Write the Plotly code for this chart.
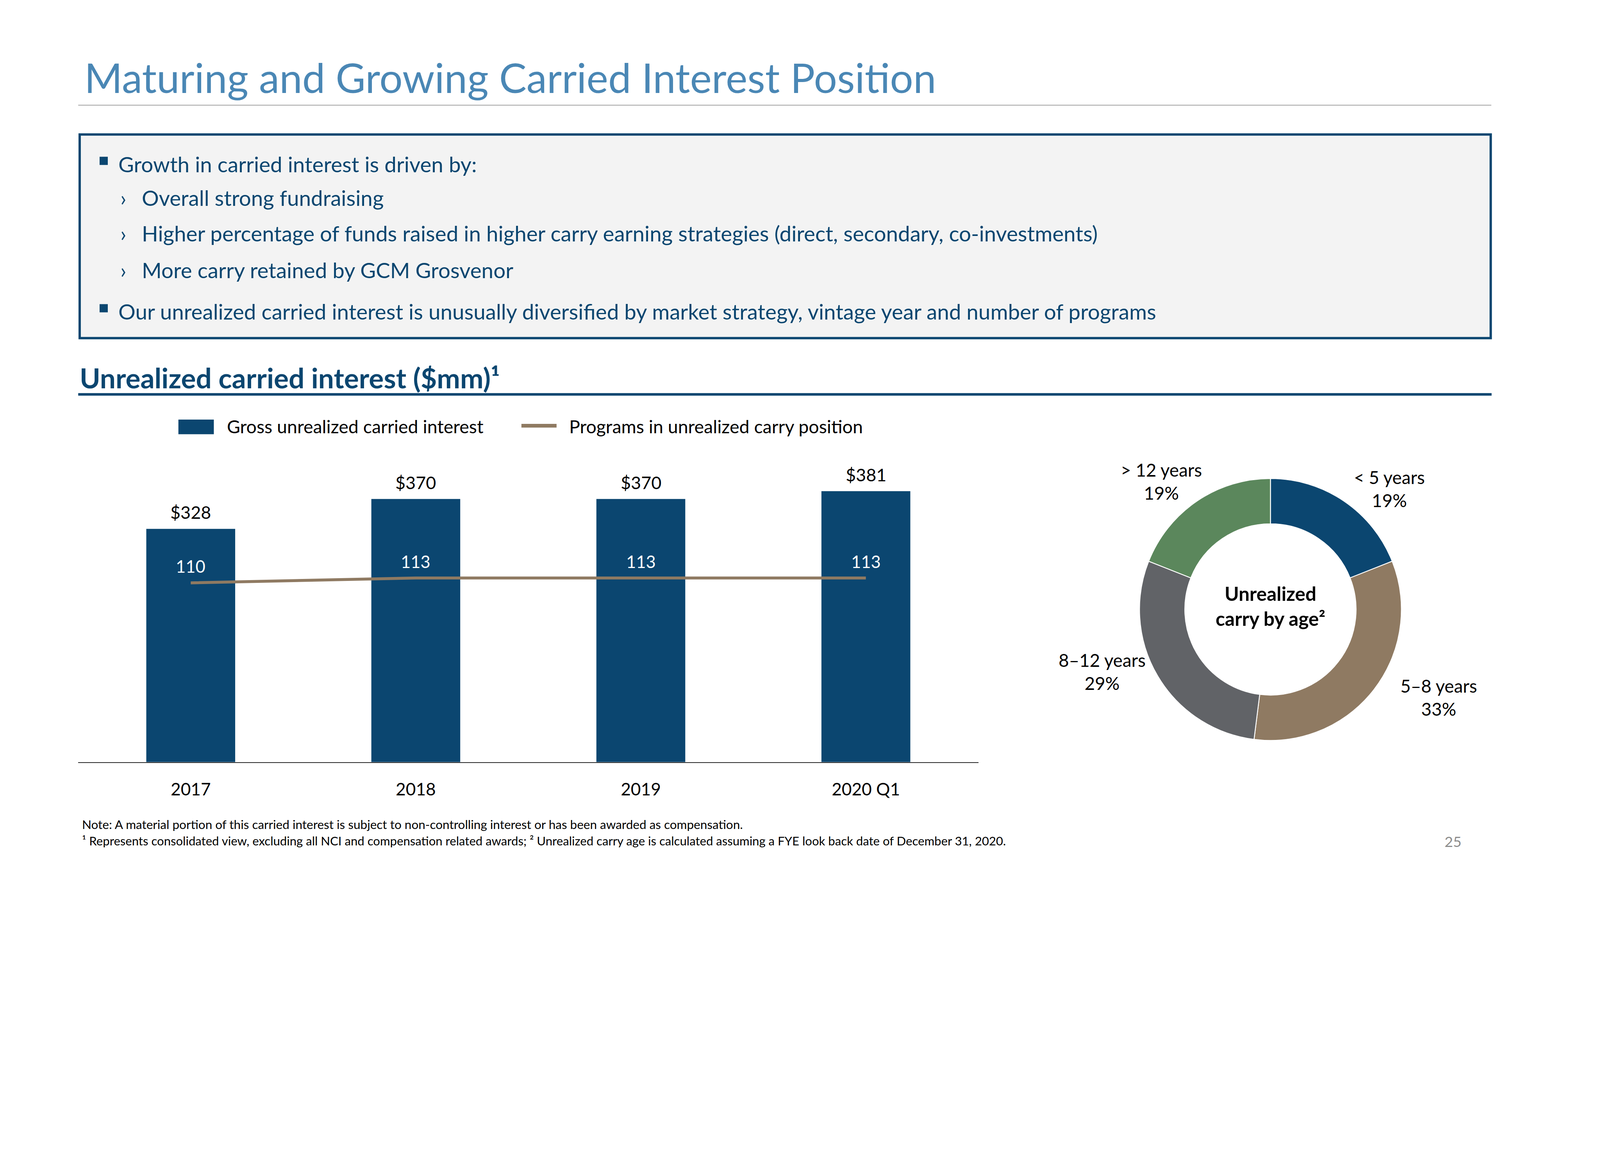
import plotly.graph_objects as go

# The reference layout is measured on a 5334x3000 grid; the figure is drawn at
# 4000x2250 CSS px (same 16:9 frame) and every pixel measure is scaled by S.
REF_W, REF_H = 5334, 3000
W, H = 4000, 2250
S = W / REF_W

# ---------------- data ----------------
categories = ["2017", "2018", "2019", "2020 Q1"]
gross_carry = [328, 370, 370, 381]          # $mm, bars
programs = [110, 113, 113, 113]             # count, line

age_labels = ["< 5 years", "5–8 years", "8–12 years", "> 12 years"]
age_share = [19, 33, 29, 19]                # percent

title_text = "Maturing and Growing Carried Interest Position"
bullet_lines = [
    ("main", "Growth in carried interest is driven by:"),
    ("sub", "Overall strong fundraising"),
    ("sub", "Higher percentage of funds raised in higher carry earning strategies (direct, secondary, co-investments)"),
    ("sub", "More carry retained by GCM Grosvenor"),
    ("main", "Our unrealized carried interest is unusually diversified by market strategy, vintage year and number of programs"),
]
subtitle_text = "Unrealized carried interest ($mm)¹"
legend_bar_text = "Gross unrealized carried interest"
legend_line_text = "Programs in unrealized carry position"
donut_center_text = "Unrealized<br>carry by age²"
note_lines = [
    "Note: A material portion of this carried interest is subject to non-controlling interest or has been awarded as compensation.",
    "¹ Represents consolidated view, excluding all NCI and compensation related awards; ² Unrealized carry age is calculated assuming a FYE look back date of December 31, 2020.",
]
page_number = "25"

# ---------------- styles ----------------
FONT = "Lato"
NAVY = "#0b4670"
TAN = "#8f7a62"
GRAY = "#616367"
GREEN = "#5b875c"
TITLE_BLUE = "#4a87b5"
TEXT_NAVY = "#0b4670"


def px(x):
    return x / REF_W


def py(y):
    return 1 - y / REF_H


fig = go.Figure()

fig.add_trace(go.Bar(
    x=categories, y=gross_carry, marker=dict(color=NAVY, line=dict(width=0)),
    width=0.395, showlegend=False, hoverinfo="skip",
))
fig.add_trace(go.Scatter(
    x=categories, y=programs, yaxis="y2", mode="lines",
    line=dict(color=TAN, width=10 * S), showlegend=False, hoverinfo="skip",
))
fig.add_trace(go.Pie(
    values=age_share, labels=age_labels, hole=0.654, sort=False,
    direction="clockwise", rotation=0,
    marker=dict(colors=[NAVY, TAN, GRAY, GREEN], line=dict(color="white", width=3 * S)),
    textinfo="none", hoverinfo="skip", showlegend=False,
    domain=dict(x=[px(3890), px(4784)], y=[py(2527), py(1633)]),
))

ann = []


def text(x, y, s, size, color="black", anchor="left", bold=False):
    ann.append(dict(
        x=px(x), y=py(y), xref="paper", yref="paper", text=s, showarrow=False,
        xanchor=anchor, yanchor="middle", align="center" if anchor == "center" else "left",
        font=dict(family=FONT, size=size * S, color=color, weight="bold" if bold else "normal"),
    ))


# title
text(286, 263, title_text, 140, TITLE_BLUE)

# bullets
baselines = [585, 700, 821, 946, 1088]
shapes = []
for (kind, s), b in zip(bullet_lines, baselines):
    if kind == "main":
        shapes.append(dict(type="rect", xref="paper", yref="paper",
                           x0=px(340), x1=px(368), y0=py(b - 22), y1=py(b - 50),
                           fillcolor=TEXT_NAVY, line=dict(width=0)))
        text(401, b - 25, s, 73, TEXT_NAVY)
    else:
        text(408, b - 25, "›", 73, TEXT_NAVY)
        text(482, b - 25, s, 73, TEXT_NAVY)

# subtitle
text(270, 1289, subtitle_text, 95, TEXT_NAVY, bold=True)

# legend
shapes.append(dict(type="rect", xref="paper", yref="paper", x0=px(609), x1=px(730),
                   y0=py(1482), y1=py(1432), fillcolor=NAVY, line=dict(width=0)))
shapes.append(dict(type="line", xref="paper", yref="paper", x0=px(1780), x1=px(1900),
                   y0=py(1453), y1=py(1453), line=dict(color=TAN, width=13 * S)))
text(772, 1455, legend_bar_text, 62)
text(1940, 1455, legend_line_text, 62)

# bar value labels and program counts (x given as category index)
for i, v in enumerate(gross_carry):
    ann.append(dict(x=i, y=v, xref="x", yref="y", text=f"${v}", showarrow=False,
                    yanchor="bottom", yshift=18 * S,
                    font=dict(family=FONT, size=60 * S, color="black")))
for i, p in enumerate(programs):
    ann.append(dict(x=i, y=p, xref="x", yref="y2", text=str(p), showarrow=False,
                    yanchor="middle", yshift=57 * S,
                    font=dict(family=FONT, size=58 * S, color="white")))

# donut labels
donut_label_pos = [(4742, 1668), (4911, 2380), (3763, 2292), (3965, 1642)]
for lab, share, (lx, ly) in zip(age_labels, age_share, donut_label_pos):
    text(lx, ly, f"{lab}<br>{share}%", 61, "black", anchor="center")
text(4337, 2068, donut_center_text, 66, "black", anchor="center", bold=True)

# notes and page number
text(277, 2813, note_lines[0], 42)
text(277, 2869, note_lines[1], 41.5)
text(4960, 2871, page_number, 50, "#8c8c8c", anchor="center")

# decorative shapes
shapes = [
    dict(type="line", xref="paper", yref="paper", x0=px(267), x1=px(5091), y0=py(359), y1=py(359),
         line=dict(color="#a0a0a0", width=3 * S)),
    dict(type="rect", xref="paper", yref="paper", x0=px(272), x1=px(5089), y0=py(1154), y1=py(459),
         fillcolor="#f3f3f3", line=dict(color=NAVY, width=8 * S), layer="below"),
    dict(type="line", xref="paper", yref="paper", x0=px(267), x1=px(5092), y0=py(1346), y1=py(1346),
         line=dict(color=NAVY, width=9 * S)),
] + shapes

fig.update_layout(
    width=W, height=H, margin=dict(l=0, r=0, t=0, b=0, autoexpand=False),
    paper_bgcolor="white", plot_bgcolor="rgba(0,0,0,0)",
    font=dict(family=FONT, color="black"),
    showlegend=False,
    xaxis=dict(domain=[px(267), px(3340)], type="category", categoryorder="array",
               categoryarray=categories, range=[-0.5, len(categories) - 0.5],
               showline=True, linecolor="#262626", linewidth=3 * S, ticks="",
               showgrid=False, zeroline=False,
               tickfont=dict(family=FONT, size=59 * S, color="black"),
               ticklabelstandoff=int(round(40 * S)), fixedrange=True),
    yaxis=dict(domain=[py(2601), py(1550)], range=[0, 433.05], visible=False, fixedrange=True),
    yaxis2=dict(overlaying="y", range=[0, 189.0], visible=False, fixedrange=True),
    annotations=ann,
    shapes=shapes,
)

fig.write_html("out.html", config={"displayModeBar": False},
               post_script="document.body.style.margin='0';")
